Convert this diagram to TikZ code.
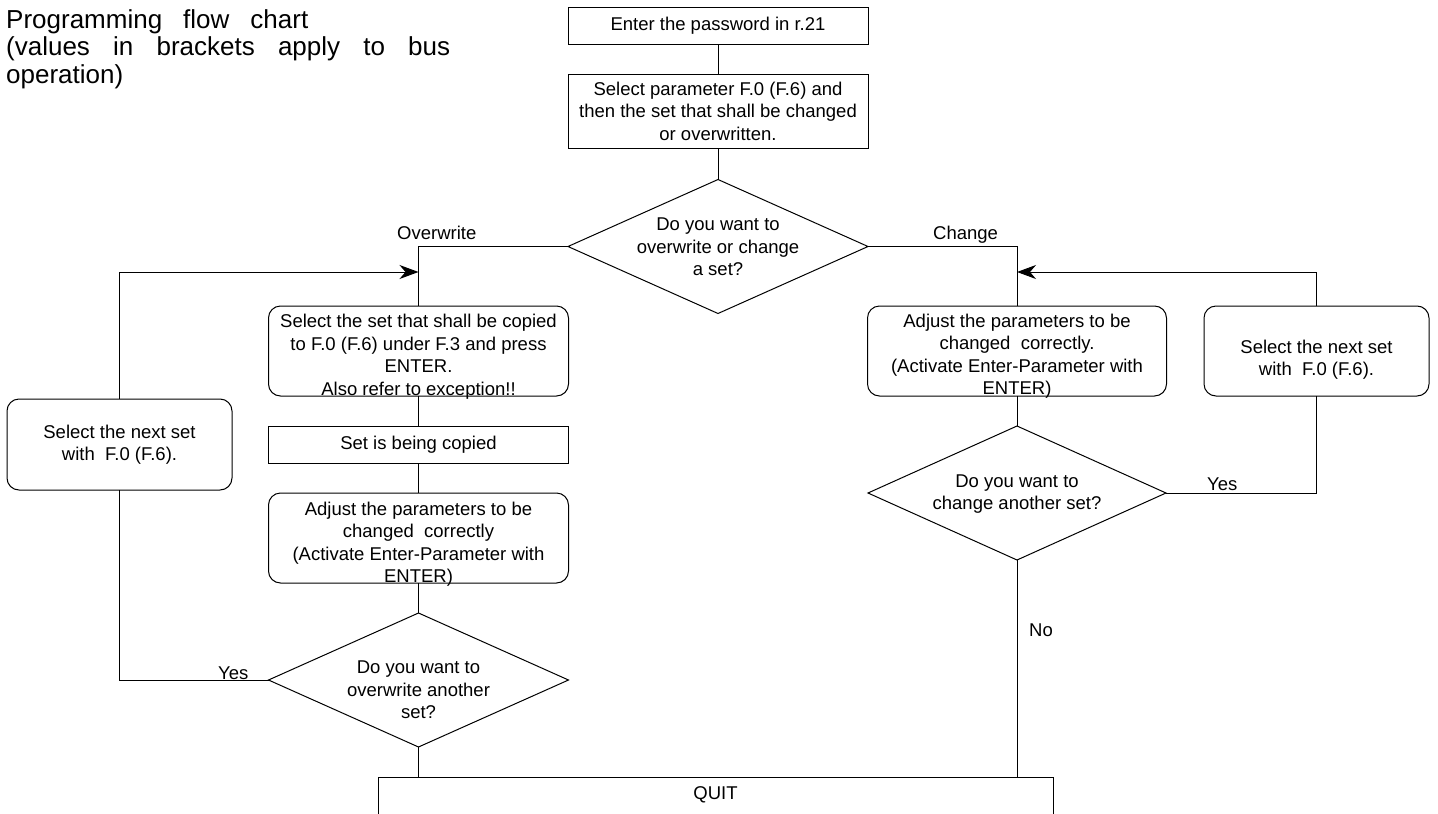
\documentclass[tikz,border=0pt]{standalone}
\usepackage{fontspec}
\setmainfont{Liberation Sans}
\usetikzlibrary{shapes.geometric,arrows.meta}
\begin{document}
\begin{tikzpicture}[x=1pt,y=-1pt,
 txt/.style={font=\fontsize{18.5}{22.5}\selectfont, inner sep=0pt, align=center},
 box/.style={txt, draw, rectangle, line width=1pt, minimum width=300pt, minimum height=37pt, outer sep=0pt},
 rbox/.style={box, rounded corners=12pt, minimum height=90pt},
 dia/.style={draw, diamond, line width=1pt, minimum width=300pt, minimum height=134pt, inner sep=0pt, outer sep=0pt},
 conn/.style={line width=1pt},
 arr/.style={conn, -{Stealth[length=19pt,width=14pt,inset=6pt]}},
 lab/.style={txt, anchor=base west}]
\useasboundingbox (0,0) rectangle (1438,814);

\node[anchor=north west, inner sep=0pt, text width=444pt, align=justify, font=\fontsize{26}{27.5}\selectfont] (title) at (6,9)
 {\spaceskip=21pt plus 15pt minus 8pt\relax\hyphenpenalty=10000 Programming flow chart\\(values in brackets apply to bus operation)};

\node[box] (enter) at (718,25.5) {Enter the password in r.21};
\node[box, minimum height=74pt] (sel) at (718,111) {Select parameter F.0 (F.6) and\\then the set that shall be changed\\or overwritten.};
\node[dia] (d1) at (718,246.5) {};
\node[txt] (d1t) at (718,247) {Do you want to\\overwrite or change\\a set?};

\node[rbox] (copysel) at (418.5,351) {};
\node[txt] (copyselt) at (418.5,356.5) {Select the set that shall be copied\\to F.0 (F.6) under F.3 and press\\ENTER.\\Also refer to exception!!};
\node[box] (copying) at (418.5,444.5) {Set is being copied};
\node[rbox] (adjL) at (418.5,538) {};
\node[txt] (adjLt) at (418.5,544) {Adjust the parameters to be\\changed~ correctly\\(Activate Enter-Parameter with\\ENTER)};
\node[dia] (d2) at (418.5,680) {};
\node[txt] (d2t) at (418.5,690) {Do you want to\\overwrite another\\set?};
\node[rbox, minimum width=225pt, minimum height=91pt] (nextL) at (119.5,444.5) {Select the next set\\with~ F.0 (F.6).};

\node[rbox, minimum width=299pt] (adjR) at (1017,351) {};
\node[txt] (adjRt) at (1017,356) {Adjust the parameters to be\\changed~ correctly.\\(Activate Enter-Parameter with\\ENTER)};
\node[dia, minimum width=298pt] (d3) at (1017,493) {};
\node[txt] (d3t) at (1017,494) {Do you want to\\change another set?};
\node[rbox, minimum width=225pt] (nextR) at (1316.5,351) {};
\node[txt] (nextRt) at (1316.5,359.5) {Select the next set\\with~ F.0 (F.6).};

\node[box, minimum width=675pt, minimum height=80pt, anchor=north] (quit) at (715.5,777) {};
\node[txt] (quitt) at (715.5,795) {QUIT};

\node[lab] (lover) at (397,239) {Overwrite};
\node[lab] (lchange) at (933,239) {Change};
\node[lab] (lyesL) at (218,679) {Yes};
\node[lab] (lyesR) at (1207,490) {Yes};
\node[lab] (lno) at (1029,636) {No};

\coordinate (mL) at (418.5,272);
\coordinate (mR) at (1017,272);

\draw[conn] (enter) -- (sel);
\draw[conn] (sel) -- (d1);
\draw[conn] (d1.west) -| (copysel.north);
\draw[conn] (d1.east) -| (adjR.north);
\draw[conn] (copysel) -- (copying);
\draw[conn] (copying) -- (adjL);
\draw[conn] (adjL) -- (d2);
\draw[conn] (d2.west) -| (nextL.south);
\draw[arr] (nextL.north) |- (mL);
\draw[conn] (d2.south) -- (d2.south |- quit.north);
\draw[conn] (adjR) -- (d3);
\draw[conn] (d3.east) -| (nextR.south);
\draw[arr] (nextR.north) |- (mR);
\draw[conn] (d3.south) -- (d3.south |- quit.north);
\end{tikzpicture}
\end{document}
